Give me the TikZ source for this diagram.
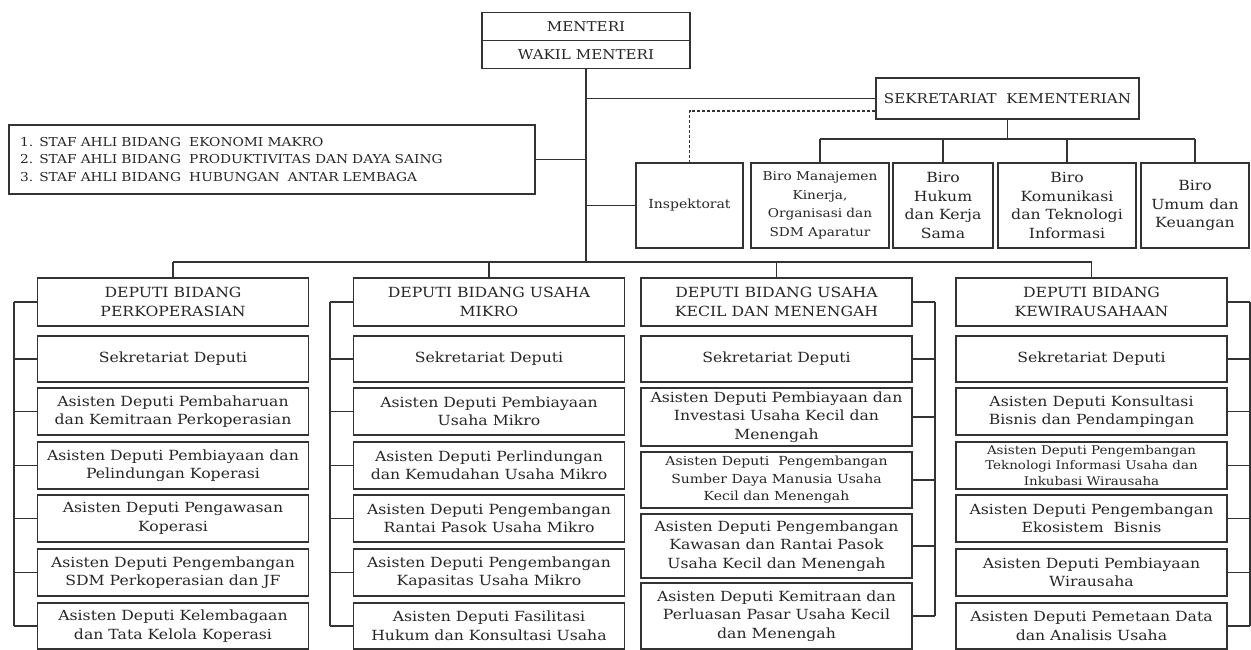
\documentclass[tikz,border=0pt]{standalone}
\usepackage{fontspec}
\setmainfont{DejaVu Serif}[FakeStretch=1.12]
\newcommand{\txt}{\fontsize{14}{18.5}\selectfont}
\newcommand{\smtxt}{\fontsize{12.5}{17}\selectfont}
\newcommand{\captxt}{\fontsize{13.5}{19}\selectfont}

\begin{document}
\begin{tikzpicture}[x=1pt,y=-1pt,
  unit/.style={draw=black!80,line width=1.1pt,align=center,inner sep=0pt,text=black!85,font=\txt},
  head/.style={unit,font=\captxt},
  col/.style={unit,minimum width=271pt},
  link/.style={draw=black!80,line width=1.1pt}]
  \useasboundingbox (0,0) rectangle (1251,650);

  % top
  \node[head,minimum width=208pt,minimum height=28pt] (menteri) at (586,26.7) {MENTERI};
  \node[head,minimum width=208pt,minimum height=27.6pt] (wakil) at (586,54.5) {WAKIL MENTERI};
  \node[head,minimum width=263pt,minimum height=41pt] (sekr) at (1007.5,98.5) {SEKRETARIAT \ KEMENTERIAN};
  \node[unit,align=left,text width=504pt,inner xsep=11pt,minimum height=69pt,font=\fontsize{12.3}{17.5}\selectfont] (staf) at (272,159.5)
    {1. STAF AHLI BIDANG \ EKONOMI MAKRO\\2. STAF AHLI BIDANG \ PRODUKTIVITAS DAN DAYA SAING\\3. STAF AHLI BIDANG \ HUBUNGAN \ ANTAR LEMBAGA};

  % biro row
  \node[unit,minimum width=107pt,minimum height=85pt,font=\smtxt] (insp) at (689.5,205.5) {Inspektorat};
  \node[unit,minimum width=138pt,minimum height=85pt,font=\fontsize{12.2}{18.5}\selectfont] (biroA) at (820,205.5) {Biro Manajemen\\Kinerja,\\Organisasi dan\\SDM Aparatur};
  \node[unit,minimum width=100pt,minimum height=85pt] (biroB) at (943,205.5) {Biro\\Hukum\\dan Kerja\\Sama};
  \node[unit,minimum width=138pt,minimum height=85pt] (biroC) at (1067,205.5) {Biro\\Komunikasi\\dan Teknologi\\Informasi};
  \node[unit,minimum width=108pt,minimum height=85pt] (biroD) at (1195,205.5) {Biro\\Umum dan\\Keuangan};

  \coordinate (sbus) at (1007.5,139);
  \coordinate (dbus) at (586,262);

  % deputi perkoperasian
  \node[head,col,minimum height=48pt] (d1) at (173,302) {DEPUTI BIDANG\\PERKOPERASIAN};
  \node[col,minimum height=46pt] (d1s) at (173,359) {Sekretariat Deputi};
  \node[col,minimum height=47pt] (d1a1) at (173,411.5) {Asisten Deputi Pembaharuan\\dan Kemitraan Perkoperasian};
  \node[col,minimum height=47pt] (d1a2) at (173,465.5) {Asisten Deputi Pembiayaan dan\\Pelindungan Koperasi};
  \node[col,minimum height=47pt] (d1a3) at (173,518.5) {Asisten Deputi Pengawasan\\Koperasi};
  \node[col,minimum height=47pt] (d1a4) at (173,572.5) {Asisten Deputi Pengembangan\\SDM Perkoperasian dan JF};
  \node[col,minimum height=46pt] (d1a5) at (173,626) {Asisten Deputi Kelembagaan\\dan Tata Kelola Koperasi};

  % deputi usaha mikro
  \node[head,col,minimum height=48pt] (d2) at (489,302) {DEPUTI BIDANG USAHA\\MIKRO};
  \node[col,minimum height=46pt] (d2s) at (489,359) {Sekretariat Deputi};
  \node[col,minimum height=47pt] (d2a1) at (489,411.5) {Asisten Deputi Pembiayaan\\Usaha Mikro};
  \node[col,minimum height=47pt] (d2a2) at (489,465.5) {Asisten Deputi Perlindungan\\dan Kemudahan Usaha Mikro};
  \node[col,minimum height=47pt] (d2a3) at (489,518.5) {Asisten Deputi Pengembangan\\Rantai Pasok Usaha Mikro};
  \node[col,minimum height=47pt] (d2a4) at (489,572.5) {Asisten Deputi Pengembangan\\Kapasitas Usaha Mikro};
  \node[col,minimum height=46pt] (d2a5) at (489,626) {Asisten Deputi Fasilitasi\\Hukum dan Konsultasi Usaha};

  % deputi usaha kecil dan menengah
  \node[head,col,minimum height=48pt] (d3) at (776.5,302) {DEPUTI BIDANG USAHA\\KECIL DAN MENENGAH};
  \node[col,minimum height=46pt] (d3s) at (776.5,359) {Sekretariat Deputi};
  \node[col,minimum height=58pt] (d3a1) at (776.5,417) {Asisten Deputi Pembiayaan dan\\Investasi Usaha Kecil dan\\Menengah};
  \node[col,minimum height=56pt,font=\fontsize{12.5}{17.5}\selectfont] (d3a2) at (776.5,480) {Asisten Deputi \ Pengembangan\\Sumber Daya Manusia Usaha\\Kecil dan Menengah};
  \node[col,minimum height=64pt] (d3a3) at (776.5,546) {Asisten Deputi Pengembangan\\Kawasan dan Rantai Pasok\\Usaha Kecil dan Menengah};
  \node[col,minimum height=66pt] (d3a4) at (776.5,616) {Asisten Deputi Kemitraan dan\\Perluasan Pasar Usaha Kecil\\dan Menengah};

  % deputi kewirausahaan
  \node[head,col,minimum height=48pt] (d4) at (1091.5,302) {DEPUTI BIDANG\\KEWIRAUSAHAAN};
  \node[col,minimum height=46pt] (d4s) at (1091.5,359) {Sekretariat Deputi};
  \node[col,minimum height=47pt] (d4a1) at (1091.5,411.5) {Asisten Deputi Konsultasi\\Bisnis dan Pendampingan};
  \node[col,minimum height=47pt,font=\fontsize{12}{15.5}\selectfont] (d4a2) at (1091.5,465.5) {Asisten Deputi Pengembangan\\Teknologi Informasi Usaha dan\\Inkubasi Wirausaha};
  \node[col,minimum height=47pt] (d4a3) at (1091.5,518.5) {Asisten Deputi Pengembangan\\Ekosistem \ Bisnis};
  \node[col,minimum height=47pt] (d4a4) at (1091.5,572.5) {Asisten Deputi Pembiayaan\\Wirausaha};
  \node[col,minimum height=46pt] (d4a5) at (1091.5,626) {Asisten Deputi Pemetaan Data\\dan Analisis Usaha};

  % bracket lines
  \coordinate (k1) at (14,0);
  \coordinate (k2) at (330,0);
  \coordinate (k3) at (935,0);
  \coordinate (k4) at (1250,0);

  % connectors
  \draw[link] (wakil.south) -- (dbus);
  \draw[link] (sekr.west -| wakil.south) -- (sekr.west);
  \draw[link] (staf.east) -- (staf.east -| wakil.south);
  \draw[link] (insp.west -| wakil.south) -- (insp.west);
  \draw[link,dashed,dash pattern=on 3pt off 2pt] ([yshift=-12.5pt]sekr.west) -| (insp.north);
  \draw[link] (sekr.south) -- (sbus);
  \draw[link] (biroA.north |- sbus) -- (biroD.north |- sbus);
  \foreach \b in {biroA,biroB,biroC,biroD}
    \draw[link] (\b.north) -- (\b.north |- sbus);
  \draw[link] (d1.north |- dbus) -- (d4.north |- dbus);
  \foreach \d in {d1,d2,d3,d4}
    \draw[link] (\d.north) -- (\d.north |- dbus);

  \draw[link] (d1.west -| k1) -- (d1a5.west -| k1);
  \foreach \n in {d1,d1s,d1a1,d1a2,d1a3,d1a4,d1a5}
    \draw[link] (\n.west) -- (\n.west -| k1);
  \draw[link] (d2.west -| k2) -- (d2a5.west -| k2);
  \foreach \n in {d2,d2s,d2a1,d2a2,d2a3,d2a4,d2a5}
    \draw[link] (\n.west) -- (\n.west -| k2);
  \draw[link] (d3.east -| k3) -- (d3a4.east -| k3);
  \foreach \n in {d3,d3s,d3a1,d3a2,d3a3,d3a4}
    \draw[link] (\n.east) -- (\n.east -| k3);
  \draw[link] (d4.east -| k4) -- (d4a5.east -| k4);
  \foreach \n in {d4,d4s,d4a1,d4a2,d4a3,d4a4,d4a5}
    \draw[link] (\n.east) -- (\n.east -| k4);
\end{tikzpicture}
\end{document}
